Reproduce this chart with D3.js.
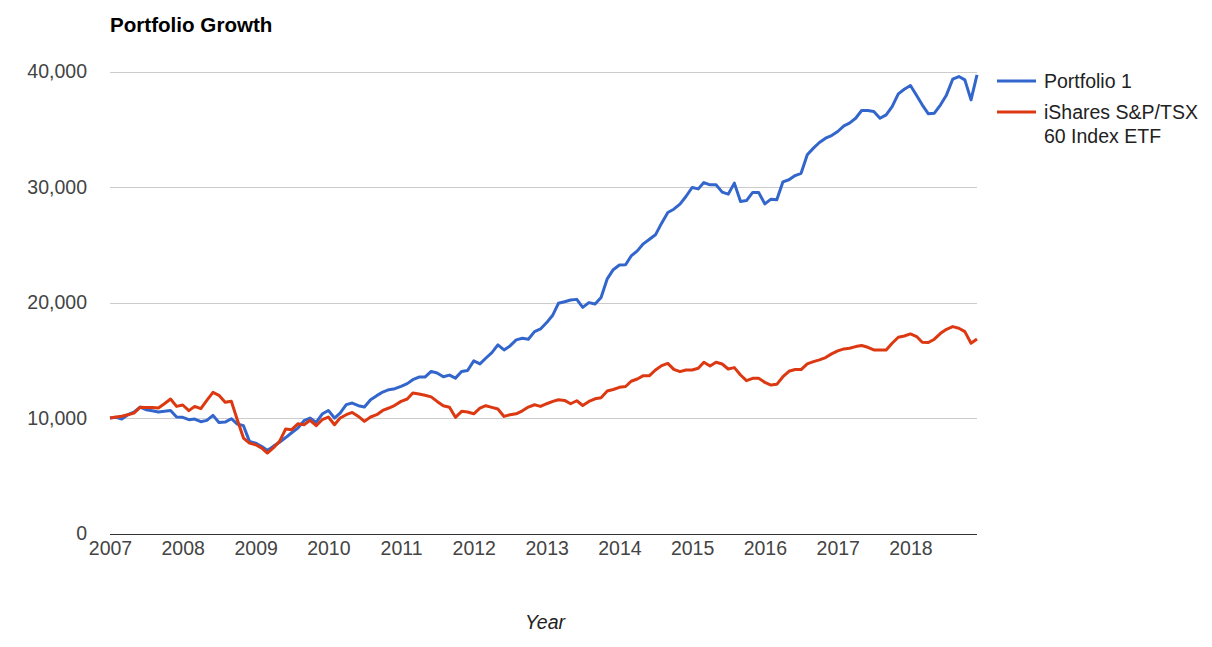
<!DOCTYPE html>
<html>
<head>
<meta charset="utf-8">
<script src="https://cdn.jsdelivr.net/npm/d3@7"></script>
<style>
  body { margin: 0; background: #fff; }
  text { font-family: Arial, "Liberation Sans", sans-serif; }
</style>
</head>
<body>
<div id="vis"></div>
<script>
// monthly values, Jan 2007 .. Dec 2018
var startYear = 2007;
var portfolio1 = [
  10000, 10060, 9910, 10290, 10520, 10950, 10720, 10630, 10520, 10580, 10660, 10090,
  10060, 9860, 9910, 9680, 9800, 10230, 9620, 9650, 9940, 9480, 9340, 7980,
  7830, 7540, 7190, 7570, 7900, 8310, 8730, 9130, 9770, 10000, 9620, 10350,
  10660, 10000, 10430, 11160, 11300, 11070, 10950, 11590, 11940, 12250, 12460, 12540,
  12750, 12980, 13320, 13550, 13550, 14040, 13900, 13580, 13720, 13460, 14030, 14120,
  14950, 14690, 15180, 15670, 16340, 15900, 16250, 16770, 16910, 16830, 17490, 17720,
  18270, 18930, 19940, 20080, 20220, 20280, 19590, 20000, 19880, 20450, 22060, 22850,
  23260, 23280, 24040, 24480, 25090, 25490, 25870, 26880, 27800, 28090, 28530, 29190,
  29970, 29850, 30400, 30200, 30200, 29570, 29390, 30350, 28760, 28840, 29540, 29540,
  28550, 28960, 28900, 30460, 30640, 31000, 31200, 32800, 33380, 33870, 34240, 34470,
  34820, 35310, 35540, 35970, 36640, 36640, 36550, 35970, 36260, 36980, 38080, 38480,
  38800, 37940, 37130, 36350, 36410, 37130, 37990, 39350, 39580, 39290, 37560, 39730
];
var ishares = [
  10000, 10090, 10150, 10290, 10430, 10925, 10920, 10920, 10870, 11240, 11650, 11010,
  11130, 10640, 11010, 10810, 11530, 12225, 11970, 11360, 11450, 9860, 8270, 7830,
  7690, 7400, 6970, 7440, 7980, 9060, 8990, 9500, 9420, 9800, 9335, 9855,
  10090, 9420, 10000, 10290, 10490, 10140, 9710, 10090, 10290, 10660, 10870, 11100,
  11445, 11650, 12170, 12080, 11970, 11830, 11440, 11070, 10940, 10060, 10580, 10520,
  10370, 10860, 11070, 10920, 10780, 10140, 10290, 10370, 10630, 10950, 11150, 11010,
  11240, 11440, 11580, 11530, 11240, 11500, 11090, 11440, 11670, 11760, 12340, 12470,
  12660, 12730, 13190, 13380, 13670, 13670, 14160, 14540, 14740, 14220, 14020, 14160,
  14160, 14310, 14830, 14510, 14830, 14680, 14250, 14370, 13730, 13240, 13440, 13440,
  13090, 12860, 12920, 13580, 14050, 14200, 14200, 14690, 14890, 15040, 15240, 15560,
  15820, 15990, 16050, 16190, 16280, 16130, 15900, 15900, 15900, 16480, 17000, 17110,
  17290, 17060, 16570, 16540, 16830, 17340, 17690, 17920, 17780, 17490, 16480, 16850
];
var seriesNames = ["Portfolio 1", "iShares S&P/TSX 60 Index ETF"];
var seriesColors = ["#3366cc", "#dc3912"];
var yTicks = [0, 10000, 20000, 30000, 40000];
var xTickYears = [2007, 2008, 2009, 2010, 2011, 2012, 2013, 2014, 2015, 2016, 2017, 2018];

var width = 1212;
var height = 647;

var svg = d3.select("#vis")
  .append("svg")
  .attr("width", width)
  .attr("height", height);

var months = portfolio1.map(function(d, i) { return new Date(startYear, i, 1); });

var x = d3.scaleTime()
  .domain([months[0], months[months.length - 1]])
  .range([110, 977]);

var y = d3.scaleLinear()
  .domain([0, 40000])
  .range([533.5, 71.7]);

// gridlines
svg.append("g")
  .selectAll("line")
  .data(yTicks.filter(function(d) { return d > 0; }))
  .enter()
  .append("line")
  .attr("x1", x.range()[0])
  .attr("x2", x.range()[1])
  .attr("y1", function(d) { return Math.round(y(d)) + 0.5; })
  .attr("y2", function(d) { return Math.round(y(d)) + 0.5; })
  .attr("stroke", "#cccccc")
  .attr("stroke-width", 1);

// y axis labels
var yAxis = d3.axisLeft(y)
  .tickValues(yTicks)
  .tickSize(0)
  .tickPadding(0)
  .tickFormat(d3.format(","));
var gy = svg.append("g")
  .attr("transform", "translate(87,0)")
  .call(yAxis);
gy.select(".domain").remove();
gy.selectAll("text")
  .attr("font-size", "19.5px")
  .attr("font-family", "Arial, 'Liberation Sans', sans-serif")
  .attr("fill", "#444");

// x axis labels
var xAxis = d3.axisBottom(x)
  .tickValues(xTickYears.map(function(yr) { return new Date(yr, 0, 1); }))
  .tickSize(0)
  .tickPadding(0)
  .tickFormat(d3.timeFormat("%Y"));
var gx = svg.append("g")
  .attr("transform", "translate(0,541)")
  .call(xAxis);
gx.select(".domain").remove();
gx.selectAll("text")
  .attr("font-size", "19.5px")
  .attr("font-family", "Arial, 'Liberation Sans', sans-serif")
  .attr("fill", "#444");

// lines
var line = d3.line()
  .x(function(d, i) { return x(months[i]); })
  .y(function(d) { return y(d); });

[portfolio1, ishares].forEach(function(series, k) {
  svg.append("path")
    .datum(series)
    .attr("fill", "none")
    .attr("stroke", seriesColors[k])
    .attr("stroke-width", 3)
    .attr("stroke-linejoin", "round")
    .attr("d", line);
});

// baseline at zero
svg.append("line")
  .attr("x1", x.range()[0])
  .attr("x2", x.range()[1])
  .attr("y1", Math.round(y(0)) + 0.5)
  .attr("y2", Math.round(y(0)) + 0.5)
  .attr("stroke", "#333")
  .attr("stroke-width", 1);

// title
svg.append("text")
  .attr("x", 110)
  .attr("y", 32)
  .attr("font-size", "20.6px")
  .attr("font-weight", "bold")
  .attr("fill", "#000")
  .text("Portfolio Growth");

// x axis title
svg.append("text")
  .attr("x", 545)
  .attr("y", 629)
  .attr("text-anchor", "middle")
  .attr("font-size", "19.5px")
  .attr("font-style", "italic")
  .attr("fill", "#222")
  .text("Year");

// legend
var legendLines = [["Portfolio 1"], ["iShares S&P/TSX", "60 Index ETF"]];
var legendY = [81, 112];
legendLines.forEach(function(lines, k) {
  svg.append("line")
    .attr("x1", 997)
    .attr("x2", 1036)
    .attr("y1", legendY[k])
    .attr("y2", legendY[k])
    .attr("stroke", seriesColors[k])
    .attr("stroke-width", 3);
  var t = svg.append("text")
    .attr("x", 1044)
    .attr("y", legendY[k] + 6.5)
    .attr("font-size", "19.5px")
    .attr("fill", "#222");
  lines.forEach(function(s, j) {
    t.append("tspan")
      .attr("x", 1044)
      .attr("dy", j === 0 ? 0 : 24.5)
      .text(s);
  });
});
</script>
</body>
</html>
